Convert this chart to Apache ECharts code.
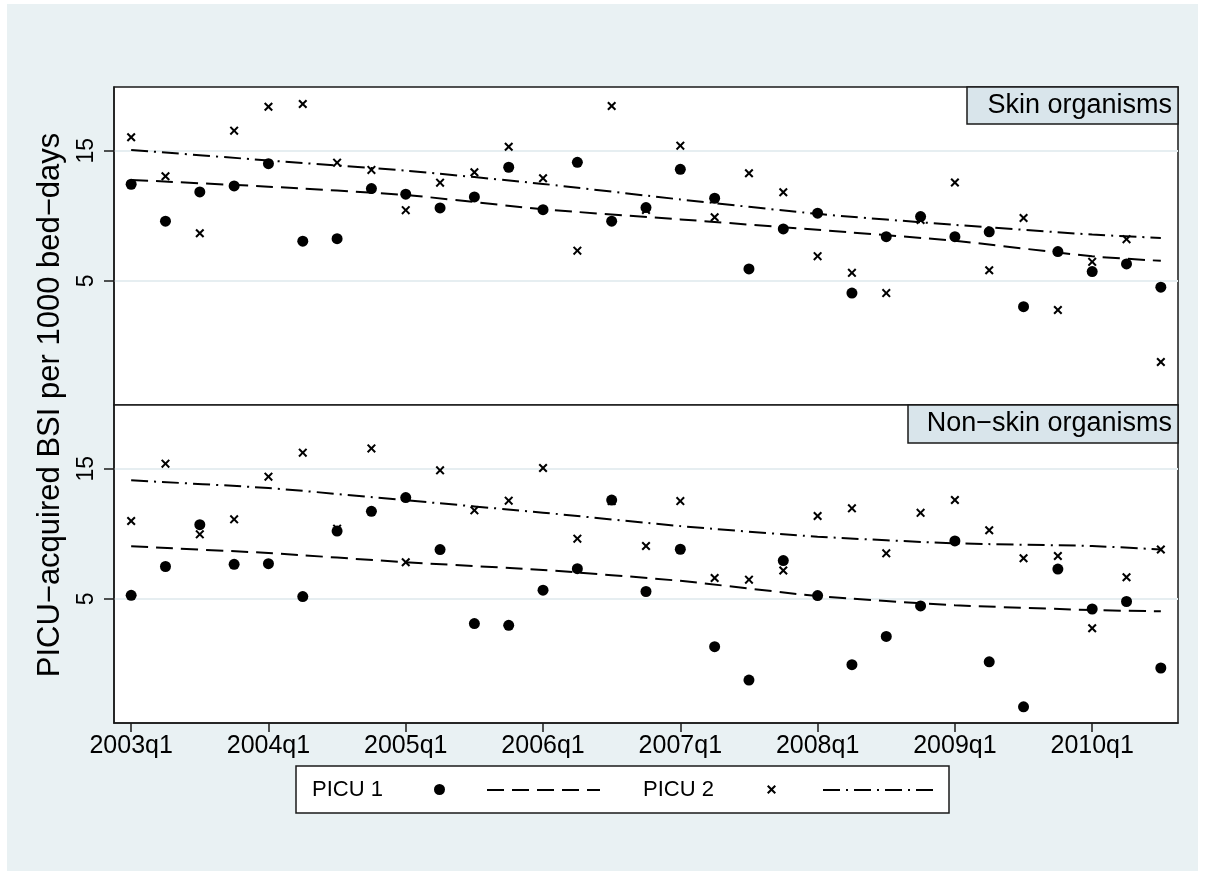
<!DOCTYPE html>
<html>
<head>
<meta charset="utf-8">
<script src="https://cdn.jsdelivr.net/npm/echarts@6/dist/echarts.min.js"></script>
<style>
html,body{margin:0;padding:0;background:#fff;}
#chart{width:1205px;height:875px;}
</style>
</head>
<body>
<div id="chart"></div>
<script>
// Quarters 2003q1 .. 2010q3
var quarters = ['2003q1','2003q2','2003q3','2003q4','2004q1','2004q2','2004q3','2004q4',
  '2005q1','2005q2','2005q3','2005q4','2006q1','2006q2','2006q3','2006q4',
  '2007q1','2007q2','2007q3','2007q4','2008q1','2008q2','2008q3','2008q4',
  '2009q1','2009q2','2009q3','2009q4','2010q1','2010q2','2010q3'];
var yTicks = [5, 15];

// Skin organisms
var skinPicu1 = [11.30,8.27,10.59,11.14,13.44,6.99,7.14,10.89,10.39,9.25,10.15,13.04,9.12,13.60,8.27,9.28,
  12.82,10.04,5.53,7.75,8.85,4.51,7.26,8.60,7.26,7.56,4.02,6.40,5.41,5.77,4.74];
var skinPicu2 = [16.79,12.09,7.47,17.76,21.74,22.24,13.56,12.75,9.08,11.45,12.50,15.51,11.89,6.45,21.87,9.10,
  15.65,8.55,12.40,10.56,6.16,5.35,4.51,8.36,11.47,5.47,8.50,3.91,5.87,7.11,2.52];
// Non-skin organisms
var nonSkinPicu1 = [5.15,6.57,9.35,6.69,6.73,5.10,8.86,10.47,11.75,7.58,4.06,4.00,5.38,6.45,11.51,5.32,
  7.60,3.34,2.52,6.91,5.14,2.87,3.64,4.71,8.15,2.94,2.01,6.43,4.59,4.89,2.79];
var nonSkinPicu2 = [9.64,15.65,8.62,9.78,14.02,17.17,9.04,17.80,6.81,14.79,10.55,11.45,15.08,8.31,11.41,7.81,
  11.41,5.96,5.88,6.35,10.06,10.73,7.34,10.33,11.51,8.92,7.04,7.18,3.90,6.00,7.58];

// Fitted trend lines read at selected quarters
var fitQuarters = ['2003q1','2004q1','2005q1','2006q1','2007q1','2008q1','2009q1','2010q1','2010q3'];
var skinFit1 = [11.72,11.07,10.32,9.15,8.40,7.69,7.01,6.15,5.92];
var skinFit2 = [15.09,13.81,12.67,11.33,9.94,8.80,8.02,7.39,7.18];
var nonSkinFit1 = [7.79,7.36,6.81,6.38,5.82,5.12,4.74,4.55,4.50];
var nonSkinFit2 = [13.59,12.74,11.49,10.35,9.24,8.45,7.99,7.81,7.58];

var panelTitles = ['Skin organisms', 'Non\u2212skin organisms'];
var yTitle = 'PICU\u2212acquired BSI per 1000 bed\u2212days';
var legendLabels = ['PICU 1', 'PICU 2'];

var FONT = 'Liberation Sans, Arial, Helvetica, sans-serif';
var BG = '#e9f1f3';
var crossPath = 'path://M0,1.6 L1.6,0 L5,3.4 L8.4,0 L10,1.6 L6.6,5 L10,8.4 L8.4,10 L5,6.6 L1.6,10 L0,8.4 L3.4,5 Z';
var dash1 = [17, 8];
var dash2 = [17, 6, 2, 6];

function pairs(xs, ys) { return xs.map(function (x, i) { return [x, ys[i]]; }); }

function yAxis(gi) {
  return {
    type: 'log', gridIndex: gi, min: 1.754, max: 25.67,
    axisLine: { show: true, lineStyle: { color: '#1a1a1a', width: 1.5 } },
    axisTick: { show: true, customValues: yTicks, length: 10, lineStyle: { color: '#1a1a1a', width: 1.5 } },
    axisLabel: { show: true, customValues: yTicks, rotate: 90, margin: 16, fontSize: 23, color: '#000', fontFamily: FONT },
    splitLine: { show: true, lineStyle: { color: '#e6eef1', width: 2 } },
    minorTick: { show: false }
  };
}

var chart = echarts.init(document.getElementById('chart'), null, { renderer: 'canvas' });

function scatter(name, data, gi, isCross) {
  return {
    name: name, type: 'scatter', xAxisIndex: gi, yAxisIndex: gi, data: data,
    symbol: isCross ? crossPath : 'circle', symbolSize: isCross ? 9 : 11,
    itemStyle: { color: '#000', opacity: 1 }, z: 5, silent: true
  };
}
function fit(name, data, gi, dash) {
  return {
    name: name, type: 'line', xAxisIndex: gi, yAxisIndex: gi, data: data,
    symbol: 'none', smooth: 0.2,
    lineStyle: { color: '#000', width: 2, type: dash },
    itemStyle: { color: '#000' }, z: 4, silent: true
  };
}

var option = {
  backgroundColor: '#ffffff',
  animation: false,
  grid: [
    { left: 114, top: 87, width: 1064, height: 318, show: true, backgroundColor: '#ffffff', borderColor: '#1a1a1a', borderWidth: 1.5 },
    { left: 114, top: 405, width: 1064, height: 318, show: true, backgroundColor: '#ffffff', borderColor: '#1a1a1a', borderWidth: 1.5 }
  ],
  xAxis: [
    { type: 'category', gridIndex: 0, data: quarters, boundaryGap: true, show: false },
    { type: 'category', gridIndex: 1, data: quarters, boundaryGap: true,
      axisLine: { show: true, lineStyle: { color: '#1a1a1a', width: 1.5 } },
      axisTick: { show: true, alignWithLabel: true, length: 9, interval: function (i) { return i % 4 === 0; }, lineStyle: { color: '#1a1a1a', width: 1.5 } },
      axisLabel: { show: true, interval: function (i) { return i % 4 === 0; }, fontSize: 25, color: '#000', fontFamily: FONT, margin: 11 },
      splitLine: { show: false } }
  ],
  yAxis: [yAxis(0), yAxis(1)],
  legend: [
    { data: ['PICU 1'], left: 434, top: 784, padding: 0, itemWidth: 11, itemHeight: 11, formatter: function () { return ''; }, selectedMode: false, z: 20 },
    { data: ['PICU 1 fit'], left: 486, top: 785, padding: 0, itemWidth: 113, itemHeight: 10, formatter: function () { return ''; }, selectedMode: false, itemStyle: { opacity: 0 }, z: 20 },
    { data: ['PICU 2'], left: 767, top: 785, padding: 0, itemWidth: 9, itemHeight: 9, formatter: function () { return ''; }, selectedMode: false, z: 20 },
    { data: ['PICU 2 fit'], left: 822, top: 785, padding: 0, itemWidth: 113, itemHeight: 10, formatter: function () { return ''; }, selectedMode: false, itemStyle: { opacity: 0 }, z: 20 }
  ],
  graphic: [
    { type: 'rect', z: -100, silent: true, shape: { x: 7, y: 4, width: 1191, height: 867 }, style: { fill: BG } },
    { type: 'rect', z: 10, silent: true, shape: { x: 967, y: 87, width: 211, height: 37 }, style: { fill: '#d9e5eb', stroke: '#1a1a1a', lineWidth: 1.5 } },
    { type: 'text', z: 11, silent: true, x: 1172, y: 106, style: { text: panelTitles[0], fontSize: 27, fontFamily: FONT, fill: '#000', textAlign: 'right', textVerticalAlign: 'middle' } },
    { type: 'rect', z: 10, silent: true, shape: { x: 908, y: 405, width: 270, height: 38 }, style: { fill: '#d9e5eb', stroke: '#1a1a1a', lineWidth: 1.5 } },
    { type: 'text', z: 11, silent: true, x: 1172, y: 424, style: { text: panelTitles[1], fontSize: 27, fontFamily: FONT, fill: '#000', textAlign: 'right', textVerticalAlign: 'middle' } },
    { type: 'text', z: 11, silent: true, x: 50, y: 405, rotation: Math.PI / 2, style: { text: yTitle, fontSize: 31, fontFamily: FONT, fill: '#000', textAlign: 'center', textVerticalAlign: 'middle' } },
    { type: 'rect', z: 1, silent: true, shape: { x: 296, y: 766, width: 653, height: 47 }, style: { fill: '#ffffff', stroke: '#1a1a1a', lineWidth: 1.5 } },
    { type: 'text', z: 11, silent: true, x: 312, y: 790, style: { text: legendLabels[0], fontSize: 22, fontFamily: FONT, fill: '#000', textVerticalAlign: 'middle' } },
    { type: 'text', z: 11, silent: true, x: 643, y: 790, style: { text: legendLabels[1], fontSize: 22, fontFamily: FONT, fill: '#000', textVerticalAlign: 'middle' } }
  ],
  series: [
    scatter('PICU 1', skinPicu1, 0, false),
    fit('PICU 1 fit', pairs(fitQuarters, skinFit1), 0, dash1),
    scatter('PICU 2', skinPicu2, 0, true),
    fit('PICU 2 fit', pairs(fitQuarters, skinFit2), 0, dash2),
    scatter('PICU 1', nonSkinPicu1, 1, false),
    fit('PICU 1 fit', pairs(fitQuarters, nonSkinFit1), 1, dash1),
    scatter('PICU 2', nonSkinPicu2, 1, true),
    fit('PICU 2 fit', pairs(fitQuarters, nonSkinFit2), 1, dash2)
  ]
};
chart.setOption(option);
</script>
</body>
</html>
